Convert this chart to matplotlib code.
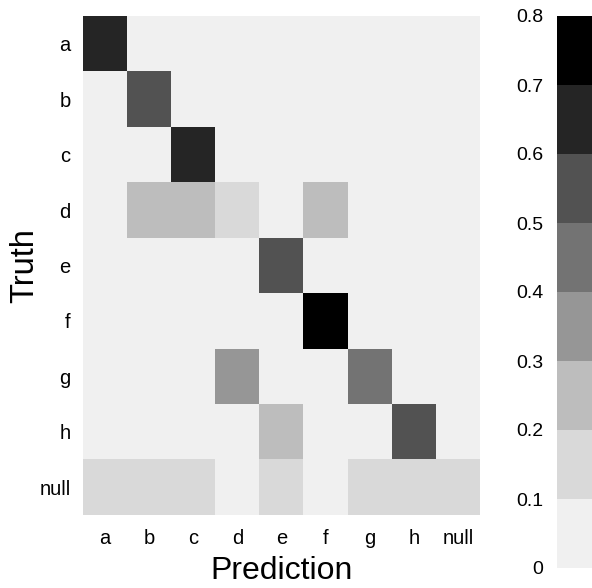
import numpy as np
import matplotlib
matplotlib.use("Agg")
import matplotlib.pyplot as plt
from matplotlib.colors import ListedColormap, BoundaryNorm

plt.rcParams['font.family'] = ['Liberation Sans', 'DejaVu Sans']

labels = ["a", "b", "c", "d", "e", "f", "g", "h", "null"]

# rows = truth, cols = prediction
row_a =    [0.65, 0.05, 0.05, 0.05, 0.05, 0.05, 0.05, 0.05, 0.05]
row_b =    [0.05, 0.55, 0.05, 0.05, 0.05, 0.05, 0.05, 0.05, 0.05]
row_c =    [0.05, 0.05, 0.65, 0.05, 0.05, 0.05, 0.05, 0.05, 0.05]
row_d =    [0.05, 0.25, 0.25, 0.15, 0.05, 0.25, 0.05, 0.05, 0.05]
row_e =    [0.05, 0.05, 0.05, 0.05, 0.55, 0.05, 0.05, 0.05, 0.05]
row_f =    [0.05, 0.05, 0.05, 0.05, 0.05, 0.75, 0.05, 0.05, 0.05]
row_g =    [0.05, 0.05, 0.05, 0.35, 0.05, 0.05, 0.45, 0.05, 0.05]
row_h =    [0.05, 0.05, 0.05, 0.05, 0.25, 0.05, 0.05, 0.55, 0.05]
row_null = [0.15, 0.15, 0.15, 0.05, 0.15, 0.05, 0.15, 0.15, 0.15]

matrix = np.array([row_a, row_b, row_c, row_d, row_e, row_f, row_g, row_h, row_null])

colors = ["#f0f0f0", "#d9d9d9", "#bdbdbd", "#969696",
          "#737373", "#525252", "#252525", "#000000"]
bounds = [0, 0.1, 0.2, 0.3, 0.4, 0.5, 0.6, 0.7, 0.8]
cbar_ticks = bounds
cbar_ticklabels = ["0", "0.1", "0.2", "0.3", "0.4", "0.5", "0.6", "0.7", "0.8"]

cmap = ListedColormap(colors)
norm = BoundaryNorm(bounds, cmap.N)

fig = plt.figure(figsize=(5.92, 5.88), dpi=100)
W, H = 592, 588
ax = fig.add_axes([83 / W, 1 - 515 / H, (480 - 83) / W, (515 - 16) / H])
im = ax.imshow(matrix, cmap=cmap, norm=norm, aspect='auto', interpolation='nearest')
ax.set_xticks(range(len(labels)))
ax.set_xticklabels(labels)
ax.set_yticks(range(len(labels)))
ax.set_yticklabels(labels)
ax.tick_params(axis='y', length=0, labelsize=14.5, pad=9)
ax.tick_params(axis='x', length=0, labelsize=14.5, pad=10)
for s in ax.spines.values():
    s.set_visible(False)
ax.set_xlabel("Prediction", fontsize=23, labelpad=6)
ax.set_ylabel("Truth", fontsize=23.5, labelpad=-1)

cax = fig.add_axes([557 / W, 1 - 568 / H, 45 / W, (568 - 16) / H])
cb = fig.colorbar(im, cax=cax, ticks=cbar_ticks)
cb.ax.set_yticklabels(cbar_ticklabels)
cb.outline.set_visible(False)
cax.yaxis.set_ticks_position('left')
cax.yaxis.set_label_position('left')
cax.tick_params(length=0, labelsize=14, pad=10)

fig.savefig("out.png", dpi=100)
